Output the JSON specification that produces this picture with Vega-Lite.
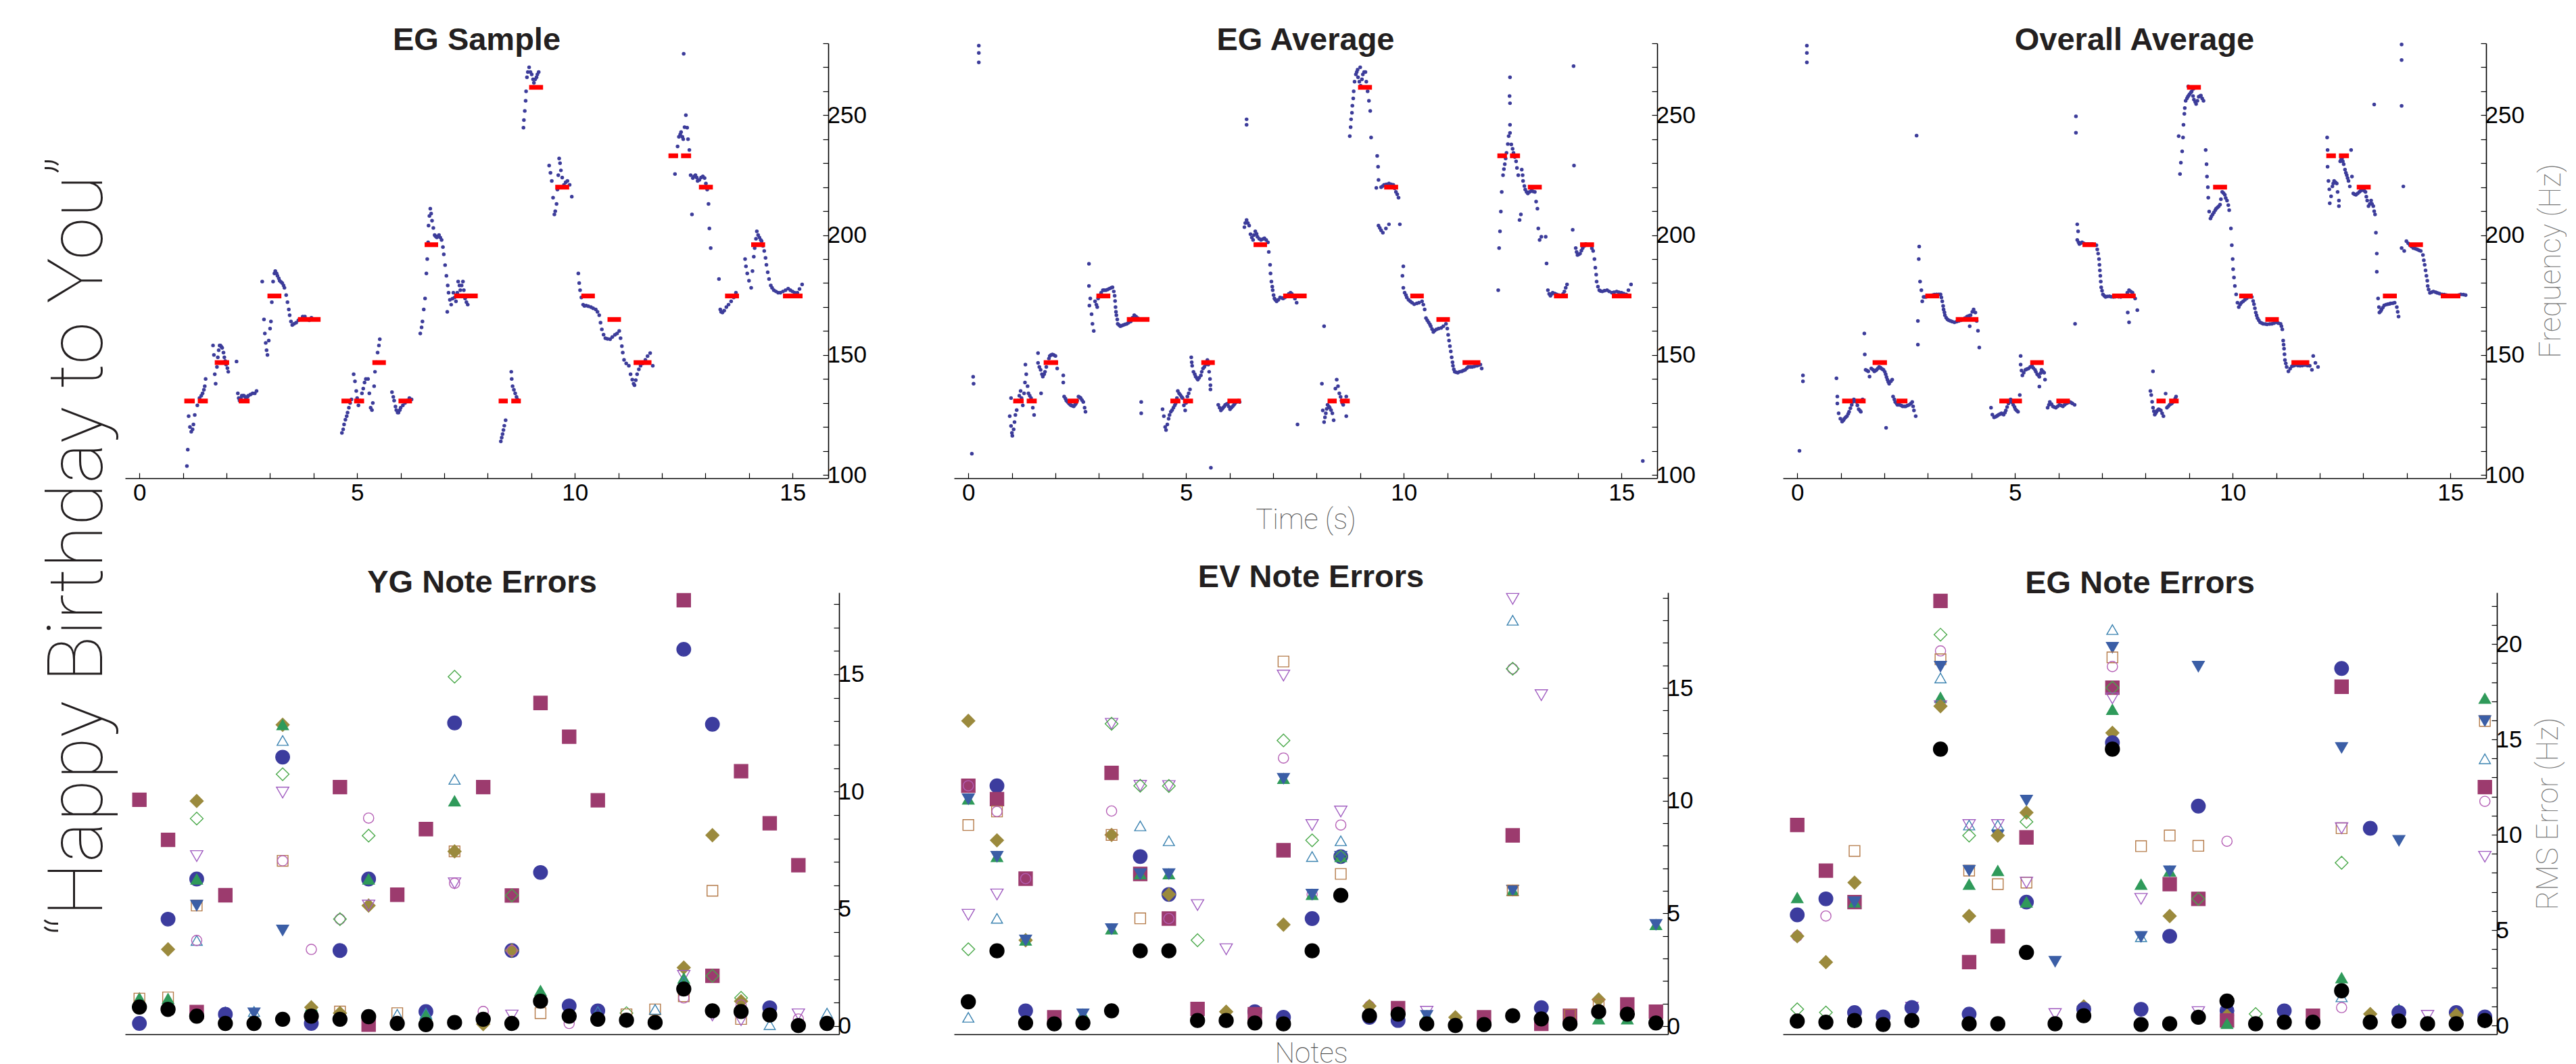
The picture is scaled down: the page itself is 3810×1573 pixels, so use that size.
{
"$schema":"https://vega.github.io/schema/vega-lite/v6.json",
"background":"white",
"padding":{"left":59,"top":36,"right":0,"bottom":0},
"title":{"text":"\u2003\u2003“Happy Birthday to You”","orient":"left","anchor":"middle","font":"Roboto","fontWeight":100,"fontSize":114,"color":"#231f20","baseline":"alphabetic","offset":-80,"frame":"bounds"},
"config":{
 "view":{"stroke":null},
 "title":{"font":"Liberation Sans","fontSize":47,"fontWeight":"bold","color":"#231f20","anchor":"middle","frame":"group","baseline":"alphabetic","offset":-37},
 "axis":{"domainColor":"#000","domainWidth":1.6,"tickColor":"#000","tickWidth":1.2,"labelColor":"#000","labelFont":"Liberation Sans","labelFontSize":35,"grid":false,"titleFont":"Roboto","titleFontWeight":100,"titleColor":"#555","titleFontSize":42,"labelOverlap":false}
},
"datasets":{
"notes":[{"t":1.03,"t1":1.27,"f":130.81},{"t":1.34,"t1":1.57,"f":130.81},{"t":1.73,"t1":2.06,"f":146.83},{"t":2.28,"t1":2.53,"f":130.81},{"t":2.94,"t1":3.26,"f":174.61},{"t":3.64,"t1":4.16,"f":164.81},{"t":4.64,"t1":4.87,"f":130.81},{"t":4.93,"t1":5.16,"f":130.81},{"t":5.35,"t1":5.66,"f":146.83},{"t":5.95,"t1":6.26,"f":130.81},{"t":6.55,"t1":6.86,"f":196.0},{"t":7.23,"t1":7.77,"f":174.61},{"t":8.25,"t1":8.46,"f":130.81},{"t":8.54,"t1":8.76,"f":130.81},{"t":8.95,"t1":9.27,"f":261.63},{"t":9.55,"t1":9.87,"f":220.0},{"t":10.15,"t1":10.46,"f":174.61},{"t":10.75,"t1":11.06,"f":164.81},{"t":11.35,"t1":11.76,"f":146.83},{"t":12.15,"t1":12.37,"f":233.08},{"t":12.44,"t1":12.67,"f":233.08},{"t":12.85,"t1":13.17,"f":220.0},{"t":13.45,"t1":13.77,"f":174.61},{"t":14.05,"t1":14.37,"f":196.0},{"t":14.78,"t1":15.23,"f":174.61}],
"s1":[{"t":1.09,"f":103.7},{"t":1.11,"f":110.5},{"t":1.13,"f":124.5},{"t":1.16,"f":120},{"t":1.19,"f":118},{"t":1.22,"f":119},{"t":1.24,"f":121},{"t":1.27,"f":125},{"t":1.33,"f":129},{"t":1.38,"f":132},{"t":1.42,"f":133},{"t":1.45,"f":134},{"t":1.48,"f":135.5},{"t":1.5,"f":137},{"t":1.52,"f":140},{"t":1.69,"f":154},{"t":1.71,"f":150},{"t":1.73,"f":142},{"t":1.75,"f":138},{"t":1.78,"f":145},{"t":1.8,"f":149},{"t":1.82,"f":152},{"t":1.84,"f":154},{"t":1.86,"f":154},{"t":1.88,"f":153.5},{"t":1.9,"f":153},{"t":1.93,"f":151},{"t":1.95,"f":149},{"t":1.97,"f":147.5},{"t":1.99,"f":146},{"t":2.02,"f":144.5},{"t":2.04,"f":143},{"t":2.23,"f":147.3},{"t":2.26,"f":134},{"t":2.28,"f":132},{"t":2.3,"f":131},{"t":2.33,"f":132},{"t":2.35,"f":133},{"t":2.38,"f":133},{"t":2.4,"f":133},{"t":2.43,"f":132.5},{"t":2.45,"f":132},{"t":2.48,"f":132.5},{"t":2.5,"f":133},{"t":2.55,"f":133.5},{"t":2.6,"f":134},{"t":2.65,"f":134},{"t":2.69,"f":135},
{"t":2.82,"f":180.6},{"t":2.86,"f":164.8},{"t":2.88,"f":159},{"t":2.9,"f":155},{"t":2.92,"f":152},{"t":2.94,"f":150},{"t":2.97,"f":156},{"t":3.0,"f":161},{"t":3.02,"f":164},{"t":3.04,"f":172},{"t":3.07,"f":180.6},{"t":3.1,"f":184},{"t":3.12,"f":185},{"t":3.15,"f":184},{"t":3.17,"f":183},{"t":3.2,"f":182},{"t":3.22,"f":181},{"t":3.25,"f":180.5},{"t":3.28,"f":180},{"t":3.31,"f":179},{"t":3.33,"f":178},{"t":3.37,"f":175},{"t":3.4,"f":172},{"t":3.43,"f":169},{"t":3.45,"f":166.6},{"t":3.48,"f":164},{"t":3.51,"f":162.5},{"t":3.55,"f":163},{"t":3.6,"f":163.5},{"t":3.65,"f":164.5},{"t":3.7,"f":165},{"t":3.75,"f":166},{"t":3.8,"f":166},{"t":3.85,"f":165},{"t":3.9,"f":164.5},{"t":3.95,"f":165.5},{"t":4.0,"f":165},
{"t":4.65,"f":117.5},{"t":4.68,"f":119},{"t":4.7,"f":121},{"t":4.73,"f":123},{"t":4.76,"f":124.5},{"t":4.78,"f":126},{"t":4.81,"f":128},{"t":4.84,"f":130},{"t":4.87,"f":131.5},{"t":4.92,"f":142},{"t":4.95,"f":139},{"t":4.98,"f":135},{"t":5.0,"f":132},{"t":5.03,"f":129},{"t":5.07,"f":131},{"t":5.11,"f":134},{"t":5.14,"f":136},{"t":5.17,"f":138.5},{"t":5.2,"f":140},{"t":5.25,"f":140},{"t":5.28,"f":134},{"t":5.31,"f":128},{"t":5.34,"f":127},{"t":5.36,"f":130},{"t":5.39,"f":137},{"t":5.41,"f":143},{"t":5.44,"f":147},{"t":5.47,"f":151},{"t":5.5,"f":154},{"t":5.52,"f":156.6},{"t":5.8,"f":134.5},{"t":5.83,"f":132.5},{"t":5.85,"f":131},{"t":5.88,"f":128.5},{"t":5.9,"f":127},{"t":5.93,"f":126},{"t":5.95,"f":126},{"t":5.98,"f":127},{"t":6.0,"f":128},{"t":6.05,"f":129},{"t":6.1,"f":130},{"t":6.15,"f":131},{"t":6.2,"f":132},{"t":6.25,"f":131.5},
{"t":6.45,"f":159},{"t":6.48,"f":161.5},{"t":6.5,"f":164},{"t":6.53,"f":169},{"t":6.56,"f":173.6},{"t":6.59,"f":184},{"t":6.61,"f":190},{"t":6.63,"f":197},{"t":6.64,"f":204},{"t":6.66,"f":208},{"t":6.68,"f":211},{"t":6.7,"f":209},{"t":6.72,"f":206},{"t":6.75,"f":203},{"t":6.78,"f":200},{"t":6.8,"f":199.5},{"t":6.83,"f":199},{"t":6.86,"f":199.5},{"t":6.88,"f":200},{"t":6.91,"f":199},{"t":6.94,"f":198},{"t":6.97,"f":195},{"t":6.99,"f":192},{"t":7.02,"f":187.5},{"t":7.05,"f":183},{"t":7.07,"f":168},{"t":7.08,"f":179},{"t":7.1,"f":176},{"t":7.13,"f":173},{"t":7.16,"f":171},{"t":7.19,"f":173.5},{"t":7.21,"f":176},{"t":7.24,"f":174},{"t":7.27,"f":172.4},{"t":7.3,"f":176},{"t":7.32,"f":180.6},{"t":7.35,"f":179},{"t":7.37,"f":177},{"t":7.4,"f":179},{"t":7.43,"f":180.6},{"t":7.45,"f":177},{"t":7.48,"f":173.6},{"t":7.51,"f":172},{"t":7.54,"f":171},
{"t":8.3,"f":114},{"t":8.32,"f":115.5},{"t":8.34,"f":117},{"t":8.36,"f":118.7},{"t":8.38,"f":120.5},{"t":8.41,"f":122.8},{"t":8.54,"f":143},{"t":8.55,"f":140},{"t":8.57,"f":137},{"t":8.6,"f":135.5},{"t":8.63,"f":134},{"t":8.66,"f":132.5},{"t":8.68,"f":131.5},
{"t":8.82,"f":244.8},{"t":8.83,"f":248},{"t":8.85,"f":251.8},{"t":8.87,"f":256},{"t":8.88,"f":260},{"t":8.9,"f":265.8},{"t":8.92,"f":268},{"t":8.95,"f":270},{"t":8.98,"f":268},{"t":9.01,"f":267},{"t":9.04,"f":265},{"t":9.06,"f":263.5},{"t":9.09,"f":265},{"t":9.12,"f":265.8},{"t":9.14,"f":267},{"t":9.17,"f":268},
{"t":9.41,"f":229},{"t":9.44,"f":226},{"t":9.47,"f":222.6},{"t":9.5,"f":215.6},{"t":9.53,"f":208.6},{"t":9.55,"f":210},{"t":9.58,"f":213},{"t":9.6,"f":219},{"t":9.62,"f":225},{"t":9.64,"f":232},{"t":9.66,"f":230},{"t":9.68,"f":227},{"t":9.71,"f":224},{"t":9.75,"f":221},{"t":9.79,"f":222},{"t":9.83,"f":222.6},{"t":9.88,"f":221},{"t":9.93,"f":216},
{"t":10.08,"f":184},{"t":10.1,"f":180},{"t":10.12,"f":177},{"t":10.15,"f":174},{"t":10.19,"f":171},{"t":10.22,"f":170.5},{"t":10.26,"f":170.6},{"t":10.31,"f":170.3},{"t":10.37,"f":170},{"t":10.42,"f":169.5},{"t":10.48,"f":169},{"t":10.52,"f":168},{"t":10.56,"f":166.6},{"t":10.59,"f":163.5},{"t":10.62,"f":160.7},{"t":10.66,"f":158.5},{"t":10.7,"f":157},{"t":10.75,"f":156.7},{"t":10.81,"f":156.6},{"t":10.86,"f":157.5},{"t":10.92,"f":158.4},{"t":10.97,"f":159},{"t":11.02,"f":160},{"t":11.05,"f":157},{"t":11.08,"f":153.7},{"t":11.1,"f":151},{"t":11.13,"f":148},{"t":11.18,"f":146.5},{"t":11.24,"f":145.5},{"t":11.28,"f":142},{"t":11.32,"f":139.7},{"t":11.35,"f":138},{"t":11.37,"f":137.4},{"t":11.4,"f":139.5},{"t":11.43,"f":142},{"t":11.47,"f":144},{"t":11.51,"f":145.5},{"t":11.56,"f":146.5},{"t":11.62,"f":148},{"t":11.67,"f":149.5},{"t":11.73,"f":150.8},{"t":11.79,"f":145.5},
{"t":12.3,"f":225.5},{"t":12.33,"f":233},{"t":12.36,"f":237},{"t":12.39,"f":241},{"t":12.42,"f":242},{"t":12.44,"f":243},{"t":12.47,"f":241},{"t":12.49,"f":240},{"t":12.52,"f":245},{"t":12.55,"f":250},{"t":12.58,"f":244.8},{"t":12.6,"f":240},{"t":12.63,"f":235.5},{"t":12.66,"f":225},{"t":12.69,"f":208.6},{"t":12.71,"f":223.8},{"t":12.74,"f":224.5},{"t":12.77,"f":225},{"t":12.8,"f":224},{"t":12.82,"f":222.6},{"t":12.86,"f":223},{"t":12.9,"f":224},{"t":12.94,"f":224.5},{"t":12.98,"f":223.8},{"t":13.01,"f":221.5},{"t":13.04,"f":219},{"t":13.07,"f":213},{"t":13.09,"f":202.8},{"t":13.12,"f":194.6},{"t":12.5,"f":275.6},
{"t":13.31,"f":181.7},{"t":13.34,"f":169},{"t":13.36,"f":168},{"t":13.39,"f":167.7},{"t":13.43,"f":168.5},{"t":13.48,"f":170},{"t":13.53,"f":171},{"t":13.59,"f":172.4},{"t":13.65,"f":174},{"t":13.7,"f":176},{"t":13.91,"f":190},{"t":13.93,"f":187},{"t":13.96,"f":184},{"t":14.0,"f":181},{"t":14.05,"f":178},{"t":14.08,"f":185},{"t":14.11,"f":191},{"t":14.13,"f":194.6},{"t":14.16,"f":198.5},{"t":14.18,"f":201.6},{"t":14.21,"f":200},{"t":14.24,"f":199},{"t":14.27,"f":198},{"t":14.29,"f":197.5},{"t":14.32,"f":195.5},{"t":14.35,"f":193.4},{"t":14.38,"f":190.5},{"t":14.4,"f":187.6},{"t":14.43,"f":184.5},{"t":14.46,"f":181.7},{"t":14.5,"f":179},{"t":14.53,"f":178},{"t":14.57,"f":177},{"t":14.62,"f":176.5},{"t":14.67,"f":176},{"t":14.72,"f":176},{"t":14.78,"f":176.5},{"t":14.84,"f":177},{"t":14.9,"f":177.7},{"t":14.95,"f":177},{"t":15.0,"f":176.5},{"t":15.05,"f":176},{"t":15.11,"f":176},{"t":15.16,"f":177.5},{"t":15.22,"f":179.4}],
"s2":[{"t":0.08,"f":108.8},{"t":0.11,"f":140.9},{"t":0.12,"f":138},{"t":0.24,"f":272},{"t":0.24,"f":276},{"t":0.24,"f":279},
{"t":0.95,"f":124.5},{"t":0.98,"f":120.4},{"t":0.98,"f":132},{"t":1.0,"f":117.5},{"t":1.01,"f":116.3},{"t":1.04,"f":119},{"t":1.06,"f":122},{"t":1.08,"f":125},{"t":1.11,"f":127},{"t":1.14,"f":131},{"t":1.17,"f":133},{"t":1.2,"f":135},{"t":1.22,"f":132},{"t":1.25,"f":129},{"t":1.28,"f":134},{"t":1.3,"f":138.5},{"t":1.31,"f":146},{"t":1.33,"f":142},{"t":1.36,"f":137},{"t":1.38,"f":134},{"t":1.41,"f":133},{"t":1.44,"f":132},{"t":1.48,"f":128},{"t":1.51,"f":125},{"t":1.6,"f":150.8},{"t":1.67,"f":134},
{"t":1.6,"f":146.7},{"t":1.63,"f":145},{"t":1.66,"f":143.8},{"t":1.69,"f":142},{"t":1.71,"f":141},{"t":1.74,"f":142},{"t":1.76,"f":143},{"t":1.79,"f":145},{"t":1.82,"f":146.7},{"t":1.85,"f":148.5},{"t":1.87,"f":149.6},{"t":1.9,"f":150},{"t":1.93,"f":150.2},{"t":1.96,"f":150},{"t":2.0,"f":149.6},{"t":2.02,"f":147},{"t":2.04,"f":144.4},{"t":2.18,"f":141.5},{"t":2.18,"f":138.5},
{"t":2.2,"f":132.7},{"t":2.23,"f":131.8},{"t":2.25,"f":131},{"t":2.28,"f":130.4},{"t":2.31,"f":129.8},{"t":2.34,"f":129.3},{"t":2.36,"f":129},{"t":2.39,"f":128.8},{"t":2.42,"f":128.6},{"t":2.45,"f":129.2},{"t":2.47,"f":129.8},{"t":2.5,"f":131},{"t":2.53,"f":132.7},{"t":2.56,"f":132.3},{"t":2.58,"f":132},{"t":2.61,"f":131.2},{"t":2.64,"f":130.4},{"t":2.67,"f":128},{"t":2.69,"f":126.3},
{"t":2.77,"f":188},{"t":2.77,"f":178.8},{"t":2.78,"f":170.6},{"t":2.8,"f":173.6},{"t":2.83,"f":167},{"t":2.85,"f":163},{"t":2.88,"f":160},{"t":2.91,"f":172.4},{"t":2.94,"f":171},{"t":2.96,"f":170},{"t":2.98,"f":173.6},{"t":3.02,"f":175},{"t":3.05,"f":176},{"t":3.09,"f":177},{"t":3.12,"f":177},{"t":3.16,"f":177},{"t":3.2,"f":177.3},{"t":3.24,"f":177.7},{"t":3.28,"f":178},{"t":3.31,"f":178.2},{"t":3.34,"f":176.5},{"t":3.36,"f":174.7},{"t":3.37,"f":172.5},{"t":3.38,"f":170},{"t":3.39,"f":168},{"t":3.4,"f":166.6},{"t":3.42,"f":164.8},{"t":3.43,"f":163},{"t":3.46,"f":162.5},{"t":3.49,"f":162},{"t":3.52,"f":162.2},{"t":3.56,"f":162.5},{"t":3.6,"f":162.8},{"t":3.64,"f":163},{"t":3.68,"f":163.5},{"t":3.73,"f":164},{"t":3.77,"f":165.5},{"t":3.81,"f":166.6},{"t":3.85,"f":166},{"t":3.89,"f":165.4},{"t":3.97,"f":130.4},{"t":3.97,"f":125.7},
{"t":4.46,"f":127.4},{"t":4.49,"f":124.5},{"t":4.52,"f":120},{"t":4.54,"f":118.7},{"t":4.57,"f":121},{"t":4.6,"f":123.4},{"t":4.62,"f":125},{"t":4.65,"f":126.3},{"t":4.68,"f":127},{"t":4.71,"f":128},{"t":4.74,"f":129},{"t":4.76,"f":129.8},{"t":4.79,"f":132},{"t":4.81,"f":135},{"t":4.84,"f":134},{"t":4.87,"f":133.3},{"t":4.9,"f":132.5},{"t":4.92,"f":132},{"t":4.95,"f":129},{"t":4.98,"f":126.9},{"t":5.0,"f":130},{"t":5.03,"f":132.7},{"t":5.06,"f":134},{"t":5.09,"f":135.6},{"t":5.12,"f":149},{"t":5.13,"f":147},{"t":5.14,"f":145.5},{"t":5.17,"f":143},{"t":5.2,"f":142},{"t":5.22,"f":141},{"t":5.25,"f":140.3},{"t":5.27,"f":139.7},{"t":5.3,"f":140.5},{"t":5.34,"f":141.5},{"t":5.36,"f":143},{"t":5.39,"f":144.4},{"t":5.42,"f":145},{"t":5.45,"f":146},{"t":5.47,"f":147},{"t":5.49,"f":147.9},{"t":5.51,"f":146},{"t":5.53,"f":143},{"t":5.55,"f":140},{"t":5.56,"f":137.4},{"t":5.56,"f":135.6},{"t":5.57,"f":103},
{"t":5.74,"f":129.2},{"t":5.77,"f":128},{"t":5.8,"f":126.9},{"t":5.83,"f":127.5},{"t":5.85,"f":128},{"t":5.88,"f":128.6},{"t":5.9,"f":129.2},{"t":5.93,"f":129.5},{"t":5.96,"f":129.8},{"t":5.98,"f":128.5},{"t":6.01,"f":127.4},{"t":6.04,"f":128},{"t":6.07,"f":128.6},{"t":6.1,"f":129.2},{"t":6.12,"f":129.8},{"t":6.16,"f":130.4},{"t":6.2,"f":131},{"t":6.23,"f":130.4},
{"t":6.39,"f":248.3},{"t":6.39,"f":246},{"t":6.34,"f":203.3},{"t":6.36,"f":205},{"t":6.39,"f":206.3},{"t":6.42,"f":205},{"t":6.45,"f":204},{"t":6.48,"f":200.4},{"t":6.51,"f":199},{"t":6.54,"f":198},{"t":6.56,"f":200},{"t":6.59,"f":201.6},{"t":6.62,"f":200.5},{"t":6.64,"f":199.3},{"t":6.68,"f":198.5},{"t":6.72,"f":198},{"t":6.76,"f":198.3},{"t":6.8,"f":198.7},{"t":6.84,"f":198},{"t":6.88,"f":197},{"t":6.9,"f":193},{"t":6.93,"f":187.6},{"t":6.94,"f":184},{"t":6.96,"f":180.6},{"t":6.98,"f":178.5},{"t":6.99,"f":177},{"t":7.01,"f":175},{"t":7.03,"f":173.6},{"t":7.05,"f":173},{"t":7.08,"f":172.4},{"t":7.12,"f":173},{"t":7.16,"f":174},{"t":7.2,"f":173.8},{"t":7.23,"f":173.6},{"t":7.27,"f":174},{"t":7.32,"f":174.7},{"t":7.36,"f":175.5},{"t":7.4,"f":176},{"t":7.43,"f":175.5},{"t":7.46,"f":174.7},{"t":7.5,"f":173.5},{"t":7.54,"f":171.8},{"t":7.56,"f":121},
{"t":8.17,"f":162},{"t":8.12,"f":138},{"t":8.14,"f":126.9},{"t":8.17,"f":122},{"t":8.19,"f":124},{"t":8.21,"f":125.7},{"t":8.23,"f":127.5},{"t":8.25,"f":129.2},{"t":8.28,"f":128.5},{"t":8.3,"f":128},{"t":8.33,"f":127},{"t":8.36,"f":125.7},{"t":8.39,"f":122.8},{"t":8.43,"f":136},{"t":8.46,"f":139.7},{"t":8.49,"f":137},{"t":8.52,"f":134},{"t":8.55,"f":132.5},{"t":8.57,"f":131},{"t":8.59,"f":130},{"t":8.61,"f":129.2},{"t":8.65,"f":131},{"t":8.68,"f":132.7},{"t":8.68,"f":124.5},
{"t":8.76,"f":241.3},{"t":8.78,"f":245},{"t":8.79,"f":248.3},{"t":8.81,"f":251},{"t":8.82,"f":254},{"t":8.84,"f":257},{"t":8.85,"f":260},{"t":8.87,"f":264},{"t":8.9,"f":267},{"t":8.92,"f":268},{"t":8.95,"f":265.8},{"t":8.98,"f":264},{"t":9.01,"f":262.3},{"t":9.04,"f":265},{"t":9.06,"f":267},{"t":9.09,"f":268},{"t":9.12,"f":268},{"t":9.14,"f":264},{"t":9.17,"f":260},{"t":9.2,"f":256},{"t":9.23,"f":251.8},{"t":9.25,"f":240.7},{"t":9.0,"f":270},{"t":8.94,"f":269},
{"t":9.37,"f":219.7},{"t":9.39,"f":233},{"t":9.41,"f":228.5},{"t":9.42,"f":223},{"t":9.42,"f":204},{"t":9.45,"f":203},{"t":9.48,"f":220},{"t":9.48,"f":202},{"t":9.52,"f":201},{"t":9.52,"f":220.5},{"t":9.55,"f":221},{"t":9.59,"f":202.8},{"t":9.6,"f":221.2},{"t":9.66,"f":221.5},{"t":9.66,"f":204.5},{"t":9.71,"f":221.2},{"t":9.76,"f":221},{"t":9.79,"f":219.5},{"t":9.82,"f":218},{"t":9.85,"f":217},{"t":9.88,"f":215.6},{"t":9.91,"f":204.5},
{"t":9.97,"f":183},{"t":9.99,"f":187},{"t":9.99,"f":178},{"t":10.02,"f":176},{"t":10.05,"f":175},{"t":10.07,"f":174},{"t":10.11,"f":173},{"t":10.15,"f":172.4},{"t":10.19,"f":171.8},{"t":10.24,"f":171.2},{"t":10.3,"f":171.5},{"t":10.35,"f":171.8},{"t":10.42,"f":172.4},{"t":10.45,"f":171},{"t":10.48,"f":169},{"t":10.51,"f":165.4},{"t":10.54,"f":164.5},{"t":10.57,"f":163.6},{"t":10.6,"f":162.8},{"t":10.62,"f":162},{"t":10.65,"f":160.8},{"t":10.68,"f":159.6},{"t":10.71,"f":160.2},{"t":10.75,"f":160.7},{"t":10.8,"f":161},{"t":10.86,"f":161.3},{"t":10.91,"f":162},{"t":10.97,"f":163},{"t":11.0,"f":161},{"t":11.02,"f":158.4},{"t":11.04,"f":156},{"t":11.06,"f":153.7},{"t":11.08,"f":151.5},{"t":11.1,"f":149},{"t":11.12,"f":147},{"t":11.13,"f":145.5},{"t":11.15,"f":144},{"t":11.17,"f":143},{"t":11.2,"f":142.8},{"t":11.24,"f":142.6},{"t":11.28,"f":143},{"t":11.33,"f":143.2},{"t":11.37,"f":143.5},{"t":11.41,"f":143.8},{"t":11.45,"f":144.5},{"t":11.48,"f":145},{"t":11.53,"f":145},{"t":11.57,"f":145},{"t":11.62,"f":145.2},{"t":11.68,"f":145.5},{"t":11.72,"f":145.8},{"t":11.76,"f":146},{"t":11.79,"f":144.4},
{"t":12.17,"f":177},{"t":12.19,"f":194.6},{"t":12.21,"f":201.6},{"t":12.23,"f":209.8},{"t":12.25,"f":218},{"t":12.28,"f":225},{"t":12.3,"f":227.5},{"t":12.32,"f":229.6},{"t":12.34,"f":232},{"t":12.36,"f":234.3},{"t":12.39,"f":238},{"t":12.41,"f":241.3},{"t":12.44,"f":246},{"t":12.43,"f":258},{"t":12.44,"f":265.8},{"t":12.44,"f":255},{"t":12.44,"f":242.6},{"t":12.47,"f":237.8},{"t":12.5,"f":236},{"t":12.52,"f":234.3},{"t":12.55,"f":232.5},{"t":12.58,"f":230.8},{"t":12.6,"f":228},{"t":12.63,"f":225},{"t":12.66,"f":206.3},{"t":12.69,"f":208.6},{"t":12.71,"f":227.3},{"t":12.73,"f":225},{"t":12.74,"f":222.6},{"t":12.77,"f":220.5},{"t":12.79,"f":219},{"t":12.82,"f":218},{"t":12.85,"f":217.4},{"t":12.89,"f":218},{"t":12.93,"f":218.5},{"t":12.97,"f":218.2},{"t":13.01,"f":218},{"t":13.04,"f":214},{"t":13.07,"f":211},{"t":13.09,"f":202.8},{"t":13.12,"f":198},{"t":13.16,"f":199.3},{"t":13.26,"f":199.3},{"t":13.28,"f":188.2},
{"t":13.31,"f":177},{"t":13.34,"f":175.5},{"t":13.37,"f":174.7},{"t":13.4,"f":175.5},{"t":13.42,"f":176},{"t":13.47,"f":175.6},{"t":13.51,"f":175.3},{"t":13.56,"f":175},{"t":13.62,"f":174.7},{"t":13.66,"f":175.5},{"t":13.69,"f":176.5},{"t":13.72,"f":178},{"t":13.75,"f":179.4},{"t":13.88,"f":202.2},{"t":13.9,"f":270.5},{"t":13.91,"f":229},{"t":13.95,"f":194.6},{"t":13.97,"f":193},{"t":13.99,"f":191.7},{"t":14.02,"f":192},{"t":14.05,"f":192.3},{"t":14.08,"f":193.5},{"t":14.11,"f":194.6},{"t":14.15,"f":195.5},{"t":14.18,"f":196.3},{"t":14.23,"f":196},{"t":14.29,"f":195.8},{"t":14.32,"f":194.5},{"t":14.35,"f":193.4},{"t":14.38,"f":190},{"t":14.4,"f":186.4},{"t":14.42,"f":183.5},{"t":14.43,"f":180.6},{"t":14.46,"f":178.5},{"t":14.49,"f":177},{"t":14.52,"f":176.7},{"t":14.56,"f":176.5},{"t":14.61,"f":176.8},{"t":14.67,"f":177},{"t":14.72,"f":176.5},{"t":14.78,"f":176},{"t":14.83,"f":176.2},{"t":14.89,"f":176.5},{"t":14.94,"f":176.2},{"t":15.0,"f":176},{"t":15.05,"f":175.6},{"t":15.11,"f":175.3},{"t":15.16,"f":177},{"t":15.22,"f":179.4},{"t":15.49,"f":105.8}],
"s3":[{"t":0.05,"f":110},{"t":0.13,"f":141.5},{"t":0.13,"f":139},{"t":0.22,"f":272},{"t":0.22,"f":276},{"t":0.22,"f":279},
{"t":0.9,"f":140.3},{"t":0.92,"f":132.7},{"t":0.92,"f":129.8},{"t":0.95,"f":125.7},{"t":0.99,"f":123.4},{"t":1.03,"f":122.2},{"t":1.06,"f":122.8},{"t":1.08,"f":123.4},{"t":1.11,"f":124},{"t":1.14,"f":124.5},{"t":1.17,"f":125.5},{"t":1.19,"f":126.3},{"t":1.22,"f":127.8},{"t":1.25,"f":129.2},{"t":1.28,"f":130.5},{"t":1.3,"f":131.5},{"t":1.33,"f":131},{"t":1.36,"f":130.4},{"t":1.38,"f":129},{"t":1.41,"f":127.4},{"t":1.44,"f":126.8},{"t":1.46,"f":126.3},{"t":1.5,"f":131.5},{"t":1.54,"f":159},{"t":1.55,"f":150.2},
{"t":1.57,"f":143.8},{"t":1.6,"f":143.5},{"t":1.63,"f":143.2},{"t":1.66,"f":141},{"t":1.7,"f":144.4},{"t":1.74,"f":143.8},{"t":1.77,"f":143.2},{"t":1.8,"f":143.5},{"t":1.82,"f":143.8},{"t":1.85,"f":144.4},{"t":1.88,"f":145},{"t":1.91,"f":144.7},{"t":1.93,"f":144.4},{"t":1.96,"f":144},{"t":1.98,"f":143.8},{"t":2.01,"f":143},{"t":2.03,"f":142},{"t":2.05,"f":140.8},{"t":2.07,"f":139.7},{"t":2.09,"f":138.8},{"t":2.11,"f":138},{"t":2.15,"f":139},{"t":2.18,"f":139.7},{"t":2.04,"f":119.6},
{"t":2.2,"f":132.7},{"t":2.23,"f":131.5},{"t":2.25,"f":130.4},{"t":2.28,"f":129.8},{"t":2.3,"f":129.2},{"t":2.33,"f":129.2},{"t":2.35,"f":129.2},{"t":2.39,"f":128.9},{"t":2.42,"f":128.6},{"t":2.46,"f":128.6},{"t":2.49,"f":128.6},{"t":2.53,"f":128.9},{"t":2.57,"f":129.2},{"t":2.61,"f":129.8},{"t":2.64,"f":130.4},{"t":2.66,"f":128.6},{"t":2.68,"f":126.9},{"t":2.72,"f":124.5},
{"t":2.74,"f":241.5},{"t":2.77,"f":154.3},{"t":2.77,"f":164.2},{"t":2.79,"f":190},{"t":2.8,"f":195.2},{"t":2.82,"f":180.6},{"t":2.85,"f":177},{"t":2.87,"f":172.4},{"t":2.9,"f":174.2},{"t":2.93,"f":174.2},{"t":2.96,"f":174.2},{"t":3.0,"f":174.5},{"t":3.04,"f":174.7},{"t":3.08,"f":174.8},{"t":3.11,"f":175},{"t":3.15,"f":175.2},{"t":3.2,"f":175.3},{"t":3.25,"f":175.3},{"t":3.29,"f":175.3},{"t":3.31,"f":174},{"t":3.33,"f":172.4},{"t":3.35,"f":170.5},{"t":3.36,"f":169},{"t":3.38,"f":167.8},{"t":3.39,"f":166.6},{"t":3.42,"f":165.5},{"t":3.45,"f":164.8},{"t":3.48,"f":164.5},{"t":3.52,"f":164.2},{"t":3.56,"f":163.9},{"t":3.61,"f":163.6},{"t":3.66,"f":163.9},{"t":3.71,"f":164.2},{"t":3.76,"f":164.5},{"t":3.81,"f":164.8},{"t":3.85,"f":165.4},{"t":3.9,"f":166},{"t":3.94,"f":166.3},{"t":3.98,"f":166.6},{"t":4.02,"f":168},{"t":4.05,"f":169},{"t":4.09,"f":167.7},{"t":4.12,"f":164.2},{"t":3.96,"f":162},{"t":4.15,"f":160.1},{"t":4.18,"f":153.1},
{"t":4.45,"f":128},{"t":4.48,"f":125.1},{"t":4.52,"f":124},{"t":4.55,"f":124.2},{"t":4.58,"f":124.5},{"t":4.6,"f":124.8},{"t":4.63,"f":125.1},{"t":4.66,"f":125.4},{"t":4.69,"f":125.7},{"t":4.71,"f":125.4},{"t":4.74,"f":125.1},{"t":4.77,"f":126},{"t":4.79,"f":126.9},{"t":4.82,"f":128.3},{"t":4.85,"f":129.8},{"t":4.88,"f":130.6},{"t":4.9,"f":131.5},{"t":4.93,"f":130.3},{"t":4.96,"f":129.2},{"t":4.99,"f":128.3},{"t":5.01,"f":127.4},{"t":5.04,"f":126.8},{"t":5.07,"f":126.3},{"t":5.11,"f":133.3},{"t":5.13,"f":149.6},{"t":5.13,"f":146},{"t":5.15,"f":143.5},{"t":5.17,"f":141.5},{"t":5.2,"f":142.6},{"t":5.24,"f":143.8},{"t":5.27,"f":144.1},{"t":5.31,"f":144.4},{"t":5.35,"f":145},{"t":5.39,"f":145.5},{"t":5.42,"f":144.6},{"t":5.46,"f":143.8},{"t":5.48,"f":143},{"t":5.51,"f":142},{"t":5.54,"f":141.5},{"t":5.56,"f":140.9},{"t":5.56,"f":136.8},{"t":5.59,"f":142.5},{"t":5.61,"f":143.8},{"t":5.64,"f":143.2},{"t":5.67,"f":142.6},{"t":5.69,"f":139.7},
{"t":5.75,"f":128},{"t":5.78,"f":129.2},{"t":5.8,"f":130.4},{"t":5.84,"f":129.5},{"t":5.87,"f":128.6},{"t":5.9,"f":128.3},{"t":5.94,"f":128},{"t":5.98,"f":128.6},{"t":6.02,"f":129.2},{"t":6.06,"f":128.9},{"t":6.1,"f":128.6},{"t":6.14,"f":129.2},{"t":6.18,"f":129.8},{"t":6.22,"f":130.1},{"t":6.26,"f":130.4},{"t":6.29,"f":130.1},{"t":6.32,"f":129.8},{"t":6.37,"f":129.2},
{"t":6.38,"f":163},{"t":6.4,"f":249.5},{"t":6.4,"f":242.7},{"t":6.43,"f":204.5},{"t":6.45,"f":201.6},{"t":6.43,"f":198},{"t":6.46,"f":197},{"t":6.48,"f":196.3},{"t":6.51,"f":196.6},{"t":6.54,"f":197},{"t":6.58,"f":196.6},{"t":6.62,"f":196.3},{"t":6.66,"f":196.3},{"t":6.69,"f":196.3},{"t":6.74,"f":196.3},{"t":6.78,"f":196.3},{"t":6.83,"f":196},{"t":6.87,"f":195.8},{"t":6.89,"f":194},{"t":6.91,"f":192.3},{"t":6.93,"f":190},{"t":6.94,"f":187.6},{"t":6.95,"f":185.3},{"t":6.96,"f":183},{"t":6.97,"f":180.6},{"t":6.98,"f":178.2},{"t":7.0,"f":176.8},{"t":7.02,"f":175.3},{"t":7.05,"f":174.7},{"t":7.08,"f":174.2},{"t":7.12,"f":174.4},{"t":7.17,"f":174.5},{"t":7.21,"f":174.3},{"t":7.26,"f":174.2},{"t":7.3,"f":174.3},{"t":7.34,"f":174.5},{"t":7.38,"f":174.3},{"t":7.43,"f":174.2},{"t":7.48,"f":174.5},{"t":7.54,"f":174.7},{"t":7.58,"f":176},{"t":7.62,"f":177},{"t":7.66,"f":176.5},{"t":7.7,"f":176},{"t":7.73,"f":174.8},{"t":7.76,"f":173.6},{"t":7.59,"f":167.7},{"t":7.62,"f":163.6},{"t":7.81,"f":168.7},
{"t":8.11,"f":135},{"t":8.13,"f":133.3},{"t":8.15,"f":130.5},{"t":8.17,"f":128},{"t":8.17,"f":143.2},{"t":8.19,"f":126.5},{"t":8.21,"f":125.1},{"t":8.23,"f":125.7},{"t":8.25,"f":126.3},{"t":8.27,"f":126.9},{"t":8.3,"f":127.4},{"t":8.32,"f":127.2},{"t":8.35,"f":126.9},{"t":8.38,"f":125.7},{"t":8.41,"f":124.5},{"t":8.46,"f":133.9},{"t":8.49,"f":128},{"t":8.52,"f":128.6},{"t":8.55,"f":129.2},{"t":8.57,"f":129.5},{"t":8.6,"f":129.8},{"t":8.63,"f":130.4},{"t":8.66,"f":131},{"t":8.68,"f":131.8},{"t":8.7,"f":132.7},
{"t":8.76,"f":241.3},{"t":8.79,"f":225.5},{"t":8.81,"f":230.2},{"t":8.84,"f":234.9},{"t":8.86,"f":240.7},{"t":8.87,"f":246},{"t":8.89,"f":250.6},{"t":8.9,"f":253},{"t":8.92,"f":256},{"t":8.95,"f":257},{"t":8.97,"f":257.7},{"t":8.99,"f":258.2},{"t":9.01,"f":258.8},{"t":9.04,"f":259.5},{"t":9.06,"f":260},{"t":9.09,"f":258},{"t":9.11,"f":256.5},{"t":9.14,"f":255.5},{"t":9.16,"f":254.7},{"t":9.19,"f":256},{"t":9.22,"f":257.7},{"t":9.25,"f":258},{"t":9.27,"f":258.2},{"t":9.3,"f":257},{"t":9.33,"f":256},{"t":8.98,"f":262},{"t":9.1,"f":261},
{"t":9.38,"f":235.5},{"t":9.4,"f":229.6},{"t":9.41,"f":224.4},{"t":9.43,"f":220},{"t":9.44,"f":215.6},{"t":9.46,"f":209.8},{"t":9.49,"f":206.9},{"t":9.51,"f":207.8},{"t":9.54,"f":208.6},{"t":9.57,"f":209.5},{"t":9.6,"f":210.4},{"t":9.62,"f":211},{"t":9.65,"f":211.5},{"t":9.68,"f":212},{"t":9.71,"f":212.7},{"t":9.73,"f":215},{"t":9.76,"f":218},{"t":9.79,"f":217.5},{"t":9.82,"f":216.8},{"t":9.84,"f":215.5},{"t":9.87,"f":214.4},{"t":9.9,"f":212.5},{"t":9.92,"f":210.4},
{"t":9.96,"f":202.8},{"t":9.98,"f":195.8},{"t":10.0,"f":190},{"t":10.01,"f":185.8},{"t":10.03,"f":182.3},{"t":10.05,"f":178.8},{"t":10.08,"f":175.3},{"t":10.11,"f":171.8},{"t":10.14,"f":170},{"t":10.17,"f":171},{"t":10.2,"f":171.8},{"t":10.24,"f":172.4},{"t":10.28,"f":173},{"t":10.32,"f":173.6},{"t":10.36,"f":174.2},{"t":10.4,"f":174.2},{"t":10.44,"f":174.2},{"t":10.47,"f":172.5},{"t":10.49,"f":171.2},{"t":10.51,"f":169.5},{"t":10.53,"f":167.7},{"t":10.55,"f":166.5},{"t":10.57,"f":165.4},{"t":10.6,"f":164.5},{"t":10.63,"f":163.6},{"t":10.67,"f":163.3},{"t":10.7,"f":163},{"t":10.75,"f":162.9},{"t":10.79,"f":162.8},{"t":10.85,"f":162.9},{"t":10.9,"f":163},{"t":10.95,"f":163.3},{"t":11.01,"f":163.6},{"t":11.05,"f":163.3},{"t":11.1,"f":163},{"t":11.12,"f":162},{"t":11.14,"f":160.7},{"t":11.16,"f":156},{"t":11.17,"f":154.3},{"t":11.18,"f":152.6},{"t":11.19,"f":150.3},{"t":11.2,"f":147.9},{"t":11.22,"f":146.5},{"t":11.24,"f":145},{"t":11.28,"f":143.2},{"t":11.32,"f":144.3},{"t":11.36,"f":145.3},{"t":11.4,"f":145.5},{"t":11.44,"f":145.8},{"t":11.5,"f":145.6},{"t":11.55,"f":145.5},{"t":11.6,"f":145.6},{"t":11.66,"f":145.8},{"t":11.72,"f":145.6},{"t":11.77,"f":145.5},{"t":11.82,"f":143.8},{"t":11.85,"f":149.6},{"t":11.9,"f":146.7},{"t":11.96,"f":145},
{"t":12.17,"f":240.7},{"t":12.18,"f":235.5},{"t":12.18,"f":228.5},{"t":12.2,"f":222.6},{"t":12.22,"f":219.1},{"t":12.23,"f":213.3},{"t":12.26,"f":216.2},{"t":12.29,"f":220.3},{"t":12.31,"f":221.5},{"t":12.33,"f":222.6},{"t":12.36,"f":222},{"t":12.39,"f":221.5},{"t":12.41,"f":218},{"t":12.44,"f":214.4},{"t":12.44,"f":212.1},{"t":12.47,"f":230.8},{"t":12.49,"f":231.5},{"t":12.51,"f":232},{"t":12.53,"f":230.8},{"t":12.55,"f":229.6},{"t":12.58,"f":227.3},{"t":12.6,"f":226},{"t":12.62,"f":225},{"t":12.64,"f":223.8},{"t":12.66,"f":222.6},{"t":12.69,"f":220.3},{"t":12.72,"f":235.5},{"t":12.74,"f":224.4},{"t":12.77,"f":217.4},{"t":12.8,"f":217},{"t":12.83,"f":216.8},{"t":12.87,"f":217.4},{"t":12.91,"f":218},{"t":12.94,"f":218.5},{"t":12.98,"f":219.1},{"t":13.02,"f":218.5},{"t":13.05,"f":218},{"t":13.07,"f":216},{"t":13.09,"f":214.4},{"t":13.12,"f":212.1},{"t":13.15,"f":213},{"t":13.18,"f":214.4},{"t":13.2,"f":213},{"t":13.23,"f":212.1},{"t":13.25,"f":210},{"t":13.27,"f":208.6},{"t":13.29,"f":201},{"t":13.31,"f":192.3},{"t":13.31,"f":184.7},{"t":13.25,"f":254.5},
{"t":13.34,"f":173.6},{"t":13.36,"f":170},{"t":13.37,"f":167.7},{"t":13.4,"f":168.3},{"t":13.42,"f":169},{"t":13.45,"f":169.8},{"t":13.48,"f":170.7},{"t":13.52,"f":171},{"t":13.56,"f":171.2},{"t":13.6,"f":171.3},{"t":13.63,"f":171.5},{"t":13.68,"f":171.6},{"t":13.72,"f":171.8},{"t":13.77,"f":170},{"t":13.79,"f":168},{"t":13.81,"f":166},{"t":13.88,"f":279.5},{"t":13.88,"f":273},{"t":13.88,"f":253.9},{"t":13.92,"f":220.3},{"t":13.88,"f":194.6},{"t":13.94,"f":193.4},{"t":13.99,"f":197.5},{"t":14.03,"f":196.6},{"t":14.07,"f":195.8},{"t":14.11,"f":195.2},{"t":14.15,"f":194.6},{"t":14.2,"f":194.3},{"t":14.24,"f":194},{"t":14.28,"f":193.7},{"t":14.32,"f":193.4},{"t":14.37,"f":191.7},{"t":14.39,"f":189.5},{"t":14.41,"f":187.6},{"t":14.43,"f":185.3},{"t":14.45,"f":183},{"t":14.47,"f":181},{"t":14.48,"f":178.8},{"t":14.5,"f":177.3},{"t":14.53,"f":175.9},{"t":14.57,"f":176.2},{"t":14.61,"f":176.5},{"t":14.66,"f":176.2},{"t":14.7,"f":175.9},{"t":14.75,"f":175.6},{"t":14.81,"f":175.3},{"t":14.86,"f":175.2},{"t":14.91,"f":175},{"t":14.96,"f":174.8},{"t":15.02,"f":174.5},{"t":15.08,"f":174.6},{"t":15.13,"f":174.7},{"t":15.19,"f":175},{"t":15.24,"f":175.3},{"t":15.3,"f":175.2},{"t":15.35,"f":175}],
"e1":[{"n":1,"s":"ms","v":9.65},{"n":1,"s":"gt","v":1.2},{"n":1,"s":"bs","v":1.17},{"n":1,"s":"bc","v":0.11},
{"n":2,"s":"ms","v":7.94},{"n":2,"s":"bc","v":4.56},{"n":2,"s":"od","v":3.27},{"n":2,"s":"bs","v":1.22},{"n":2,"s":"gt","v":1.17},
{"n":3,"s":"od","v":9.6},{"n":3,"s":"gd","v":8.85},{"n":3,"s":"pt","v":7.25},{"n":3,"s":"bc","v":6.27},{"n":3,"s":"gt","v":6.27},{"n":3,"s":"bs","v":5.14},{"n":3,"s":"bt","v":5.14},{"n":3,"s":"tt","v":3.65},{"n":3,"s":"pc","v":3.65},{"n":3,"s":"ms","v":0.6},
{"n":4,"s":"ms","v":5.58},{"n":4,"s":"tt","v":0.6},{"n":4,"s":"bc","v":0.5},
{"n":5,"s":"tt","v":0.62},{"n":5,"s":"bt","v":0.55},
{"n":6,"s":"od","v":12.85},{"n":6,"s":"gt","v":12.85},{"n":6,"s":"tt","v":12.18},{"n":6,"s":"bc","v":11.47},{"n":6,"s":"gd","v":10.74},{"n":6,"s":"pt","v":9.96},{"n":6,"s":"bs","v":7.05},{"n":6,"s":"pc","v":7.05},{"n":6,"s":"bt","v":4.08},
{"n":7,"s":"pc","v":3.27},{"n":7,"s":"gt","v":0.85},{"n":7,"s":"od","v":0.8},{"n":7,"s":"bc","v":0.11},
{"n":8,"s":"ms","v":10.19},{"n":8,"s":"pc","v":4.56},{"n":8,"s":"gd","v":4.56},{"n":8,"s":"bc","v":3.22},{"n":8,"s":"bs","v":0.62},{"n":8,"s":"od","v":0.55},
{"n":9,"s":"pc","v":8.87},{"n":9,"s":"gd","v":8.12},{"n":9,"s":"bc","v":6.27},{"n":9,"s":"gt","v":6.27},{"n":9,"s":"od","v":5.14},{"n":9,"s":"pt","v":5.14},{"n":9,"s":"ms","v":0.06},
{"n":10,"s":"ms","v":5.6},{"n":10,"s":"tt","v":0.5},{"n":10,"s":"bs","v":0.55},
{"n":11,"s":"ms","v":8.4},{"n":11,"s":"bc","v":0.62},{"n":11,"s":"gt","v":0.5},{"n":11,"s":"tt","v":0.55},
{"n":12,"s":"gd","v":14.9},{"n":12,"s":"bc","v":12.93},{"n":12,"s":"tt","v":10.52},{"n":12,"s":"gt","v":9.6},{"n":12,"s":"bs","v":7.45},{"n":12,"s":"od","v":7.45},{"n":12,"s":"pt","v":6.09},{"n":12,"s":"pc","v":6.09},
{"n":13,"s":"ms","v":10.19},{"n":13,"s":"pc","v":0.62},{"n":13,"s":"od","v":0.08},
{"n":14,"s":"ms","v":5.57},{"n":14,"s":"gd","v":5.57},{"n":14,"s":"bc","v":3.22},{"n":14,"s":"od","v":3.22},{"n":14,"s":"pc","v":3.22},{"n":14,"s":"pt","v":0.45},
{"n":15,"s":"ms","v":13.78},{"n":15,"s":"bc","v":6.55},{"n":15,"s":"gt","v":1.51},{"n":15,"s":"bs","v":0.55},
{"n":16,"s":"ms","v":12.34},{"n":16,"s":"bc","v":0.86},{"n":16,"s":"pc","v":0.11},
{"n":17,"s":"ms","v":9.63},{"n":17,"s":"bc","v":0.65},{"n":17,"s":"tt","v":0.62},
{"n":18,"s":"gd","v":0.55},{"n":18,"s":"bs","v":0.5},{"n":18,"s":"tt","v":0.3},
{"n":19,"s":"bs","v":0.71},{"n":19,"s":"tt","v":0.71},
{"n":20,"s":"ms","v":18.16},{"n":20,"s":"bc","v":16.07},{"n":20,"s":"od","v":2.49},{"n":20,"s":"pt","v":2.14},{"n":20,"s":"gt","v":2.04},{"n":20,"s":"tt","v":1.9},{"n":20,"s":"bs","v":1.27},{"n":20,"s":"pc","v":1.2},
{"n":21,"s":"bc","v":12.87},{"n":21,"s":"od","v":8.14},{"n":21,"s":"bs","v":5.77},{"n":21,"s":"ms","v":2.14},{"n":21,"s":"gd","v":2.14},{"n":21,"s":"pt","v":0.45},
{"n":22,"s":"ms","v":10.87},{"n":22,"s":"gd","v":1.2},{"n":22,"s":"od","v":1.06},{"n":22,"s":"pc","v":0.9},{"n":22,"s":"bs","v":0.3},{"n":22,"s":"pt","v":0.25},
{"n":23,"s":"ms","v":8.65},{"n":23,"s":"bc","v":0.78},{"n":23,"s":"tt","v":0.06},
{"n":24,"s":"ms","v":6.86},{"n":24,"s":"pt","v":0.5},{"n":24,"s":"pc","v":0.3},
{"n":25,"s":"tt","v":0.55},
{"n":1,"s":"k","v":0.81},{"n":2,"s":"k","v":0.71},{"n":3,"s":"k","v":0.42},{"n":4,"s":"k","v":0.11},{"n":5,"s":"k","v":0.11},{"n":6,"s":"k","v":0.29},{"n":7,"s":"k","v":0.42},{"n":8,"s":"k","v":0.29},{"n":9,"s":"k","v":0.4},{"n":10,"s":"k","v":0.11},{"n":11,"s":"k","v":0.06},{"n":12,"s":"k","v":0.15},{"n":13,"s":"k","v":0.29},{"n":14,"s":"k","v":0.11},{"n":15,"s":"k","v":1.06},{"n":16,"s":"k","v":0.42},{"n":17,"s":"k","v":0.29},{"n":18,"s":"k","v":0.25},{"n":19,"s":"k","v":0.15},{"n":20,"s":"k","v":1.58},{"n":21,"s":"k","v":0.65},{"n":22,"s":"k","v":0.62},{"n":23,"s":"k","v":0.47},{"n":24,"s":"k","v":0.02},{"n":25,"s":"k","v":0.11}],
"e2":[{"n":1,"s":"od","v":13.54},{"n":1,"s":"ms","v":10.66},{"n":1,"s":"pc","v":10.66},{"n":1,"s":"gt","v":10.07},{"n":1,"s":"bt","v":10.07},{"n":1,"s":"bs","v":8.92},{"n":1,"s":"pt","v":4.94},{"n":1,"s":"gd","v":3.41},{"n":1,"s":"tt","v":0.39},
{"n":2,"s":"bc","v":10.66},{"n":2,"s":"ms","v":10.07},{"n":2,"s":"bs","v":9.52},{"n":2,"s":"pc","v":9.52},{"n":2,"s":"od","v":8.24},{"n":2,"s":"gt","v":7.52},{"n":2,"s":"bt","v":7.52},{"n":2,"s":"pt","v":5.84},{"n":2,"s":"tt","v":4.78},
{"n":3,"s":"ms","v":6.54},{"n":3,"s":"pc","v":6.54},{"n":3,"s":"od","v":3.81},{"n":3,"s":"gt","v":3.81},{"n":3,"s":"bt","v":3.81},{"n":3,"s":"bc","v":0.68},
{"n":4,"s":"ms","v":0.39},
{"n":5,"s":"gt","v":0.53},{"n":5,"s":"bt","v":0.53},
{"n":6,"s":"pt","v":13.41},{"n":6,"s":"gd","v":13.41},{"n":6,"s":"ms","v":11.23},{"n":6,"s":"pc","v":9.54},{"n":6,"s":"od","v":8.48},{"n":6,"s":"bs","v":8.48},{"n":6,"s":"gt","v":4.31},{"n":6,"s":"bt","v":4.31},
{"n":7,"s":"pt","v":10.66},{"n":7,"s":"gd","v":10.66},{"n":7,"s":"tt","v":8.88},{"n":7,"s":"bc","v":7.52},{"n":7,"s":"ms","v":6.75},{"n":7,"s":"gt","v":6.75},{"n":7,"s":"bt","v":6.75},{"n":7,"s":"bs","v":4.78},
{"n":8,"s":"pt","v":10.65},{"n":8,"s":"gd","v":10.65},{"n":8,"s":"tt","v":8.22},{"n":8,"s":"gt","v":6.75},{"n":8,"s":"bt","v":6.75},{"n":8,"s":"bc","v":5.84},{"n":8,"s":"od","v":5.84},{"n":8,"s":"ms","v":4.77},{"n":8,"s":"pc","v":4.77},
{"n":9,"s":"pt","v":5.37},{"n":9,"s":"gd","v":3.81},{"n":9,"s":"ms","v":0.76},
{"n":10,"s":"pt","v":3.41},{"n":10,"s":"od","v":0.64},
{"n":11,"s":"bc","v":0.64},{"n":11,"s":"ms","v":0.53},
{"n":12,"s":"bs","v":16.17},{"n":12,"s":"pt","v":15.55},{"n":12,"s":"gd","v":12.67},{"n":12,"s":"pc","v":11.89},{"n":12,"s":"gt","v":10.98},{"n":12,"s":"bt","v":10.98},{"n":12,"s":"ms","v":7.8},{"n":12,"s":"od","v":4.5},{"n":12,"s":"bc","v":0.39},
{"n":13,"s":"pt","v":8.92},{"n":13,"s":"gd","v":8.24},{"n":13,"s":"tt","v":7.52},{"n":13,"s":"pc","v":5.84},{"n":13,"s":"gt","v":5.84},{"n":13,"s":"bt","v":5.84},{"n":13,"s":"bc","v":4.77},
{"n":14,"s":"pt","v":9.52},{"n":14,"s":"pc","v":8.92},{"n":14,"s":"tt","v":8.22},{"n":14,"s":"bc","v":7.52},{"n":14,"s":"gt","v":7.52},{"n":14,"s":"bt","v":7.52},{"n":14,"s":"gd","v":7.52},{"n":14,"s":"bs","v":6.75},
{"n":15,"s":"pc","v":0.89},{"n":15,"s":"od","v":0.89},{"n":15,"s":"bc","v":0.39},
{"n":16,"s":"bs","v":0.82},{"n":16,"s":"ms","v":0.8},{"n":16,"s":"bc","v":0.25},
{"n":17,"s":"pt","v":0.64},{"n":17,"s":"gt","v":0.46},{"n":17,"s":"bt","v":0.46},
{"n":18,"s":"od","v":0.39},
{"n":19,"s":"ms","v":0.39},
{"n":20,"s":"pt","v":18.95},{"n":20,"s":"tt","v":18.0},{"n":20,"s":"pc","v":15.85},{"n":20,"s":"gd","v":15.85},{"n":20,"s":"ms","v":8.46},{"n":20,"s":"gt","v":6.02},{"n":20,"s":"bt","v":6.02},{"n":20,"s":"bs","v":6.02},
{"n":21,"s":"pt","v":14.68},{"n":21,"s":"bc","v":0.82},{"n":21,"s":"ms","v":0.1},
{"n":22,"s":"ms","v":0.46},{"n":22,"s":"bs","v":0.5},
{"n":23,"s":"od","v":1.18},{"n":23,"s":"bs","v":0.96},{"n":23,"s":"gt","v":0.32},
{"n":24,"s":"ms","v":0.96},{"n":24,"s":"gt","v":0.32},
{"n":25,"s":"gt","v":4.5},{"n":25,"s":"bt","v":4.5},{"n":25,"s":"ms","v":0.64},
{"n":1,"s":"k","v":1.08},{"n":2,"s":"k","v":3.34},{"n":3,"s":"k","v":0.14},{"n":4,"s":"k","v":0.1},{"n":5,"s":"k","v":0.14},{"n":6,"s":"k","v":0.68},{"n":7,"s":"k","v":3.34},{"n":8,"s":"k","v":3.34},{"n":9,"s":"k","v":0.25},{"n":10,"s":"k","v":0.25},{"n":11,"s":"k","v":0.14},{"n":12,"s":"k","v":0.1},{"n":13,"s":"k","v":3.34},{"n":14,"s":"k","v":5.8},{"n":15,"s":"k","v":0.46},{"n":16,"s":"k","v":0.53},{"n":17,"s":"k","v":0.1},{"n":18,"s":"k","v":0.03},{"n":19,"s":"k","v":0.07},{"n":20,"s":"k","v":0.46},{"n":21,"s":"k","v":0.32},{"n":22,"s":"k","v":0.1},{"n":23,"s":"k","v":0.64},{"n":24,"s":"k","v":0.53},{"n":25,"s":"k","v":0.14}],
"e3":[{"n":1,"s":"ms","v":10.51},{"n":1,"s":"gt","v":6.7},{"n":1,"s":"bc","v":5.8},{"n":1,"s":"pc","v":4.68},{"n":1,"s":"od","v":4.68},{"n":1,"s":"gd","v":0.85},
{"n":2,"s":"ms","v":8.12},{"n":2,"s":"bc","v":6.64},{"n":2,"s":"pc","v":5.74},{"n":2,"s":"od","v":3.32},{"n":2,"s":"gd","v":0.68},
{"n":3,"s":"bs","v":9.15},{"n":3,"s":"od","v":7.49},{"n":3,"s":"ms","v":6.47},{"n":3,"s":"gt","v":6.47},{"n":3,"s":"bt","v":6.47},{"n":3,"s":"bc","v":0.68},
{"n":4,"s":"bc","v":0.45},
{"n":5,"s":"pt","v":0.94},{"n":5,"s":"bc","v":0.94},
{"n":6,"s":"ms","v":22.26},{"n":6,"s":"gd","v":20.49},{"n":6,"s":"pc","v":19.64},{"n":6,"s":"bs","v":19.2},{"n":6,"s":"bt","v":18.82},{"n":6,"s":"tt","v":18.22},{"n":6,"s":"gt","v":17.2},{"n":6,"s":"pt","v":16.74},{"n":6,"s":"od","v":16.74},
{"n":7,"s":"tt","v":10.51},{"n":7,"s":"pt","v":10.51},{"n":7,"s":"gd","v":9.96},{"n":7,"s":"bs","v":8.12},{"n":7,"s":"bt","v":8.12},{"n":7,"s":"gt","v":7.4},{"n":7,"s":"od","v":5.74},{"n":7,"s":"ms","v":3.32},{"n":7,"s":"bc","v":0.6},
{"n":8,"s":"tt","v":10.51},{"n":8,"s":"pt","v":10.51},{"n":8,"s":"bt","v":9.96},{"n":8,"s":"od","v":9.96},{"n":8,"s":"gt","v":8.12},{"n":8,"s":"bs","v":7.41},{"n":8,"s":"ms","v":4.68},
{"n":9,"s":"bt","v":11.8},{"n":9,"s":"od","v":11.16},{"n":9,"s":"gd","v":10.68},{"n":9,"s":"ms","v":9.86},{"n":9,"s":"bs","v":7.49},{"n":9,"s":"pt","v":7.49},{"n":9,"s":"bc","v":6.47},{"n":9,"s":"gt","v":6.47},
{"n":10,"s":"bt","v":3.35},{"n":10,"s":"pt","v":0.6},
{"n":11,"s":"od","v":1.0},{"n":11,"s":"bc","v":0.85},{"n":11,"s":"gt","v":0.6},
{"n":12,"s":"tt","v":20.76},{"n":12,"s":"bt","v":19.81},{"n":12,"s":"bs","v":19.3},{"n":12,"s":"pc","v":18.82},{"n":12,"s":"ms","v":17.71},{"n":12,"s":"gd","v":17.71},{"n":12,"s":"pt","v":17.15},{"n":12,"s":"gt","v":16.57},{"n":12,"s":"od","v":15.34},{"n":12,"s":"bc","v":14.83},
{"n":13,"s":"bs","v":9.4},{"n":13,"s":"gt","v":7.4},{"n":13,"s":"pt","v":6.64},{"n":13,"s":"tt","v":4.65},{"n":13,"s":"bt","v":4.65},{"n":13,"s":"bc","v":0.85},
{"n":14,"s":"bs","v":9.96},{"n":14,"s":"gt","v":8.09},{"n":14,"s":"bt","v":8.09},{"n":14,"s":"ms","v":7.41},{"n":14,"s":"od","v":5.74},{"n":14,"s":"bc","v":4.68},
{"n":15,"s":"bt","v":18.82},{"n":15,"s":"bc","v":11.5},{"n":15,"s":"bs","v":9.42},{"n":15,"s":"ms","v":6.64},{"n":15,"s":"gd","v":6.64},{"n":15,"s":"pt","v":0.7},
{"n":16,"s":"pc","v":9.66},{"n":16,"s":"bc","v":0.77},{"n":16,"s":"od","v":0.51},{"n":16,"s":"ms","v":0.26},{"n":16,"s":"gt","v":0.1},
{"n":17,"s":"gd","v":0.6},
{"n":18,"s":"bc","v":0.77},
{"n":19,"s":"ms","v":0.51},
{"n":20,"s":"od","v":18.72},{"n":20,"s":"bc","v":18.72},{"n":20,"s":"ms","v":17.76},{"n":20,"s":"bt","v":14.56},{"n":20,"s":"bs","v":10.34},{"n":20,"s":"pt","v":10.34},{"n":20,"s":"gd","v":8.53},{"n":20,"s":"gt","v":2.5},{"n":20,"s":"tt","v":1.5},{"n":20,"s":"pc","v":0.94},
{"n":21,"s":"bc","v":10.34},{"n":21,"s":"od","v":0.6},
{"n":22,"s":"bt","v":9.69},{"n":22,"s":"gt","v":0.85},{"n":22,"s":"bc","v":0.68},
{"n":23,"s":"pt","v":0.51},
{"n":24,"s":"bc","v":0.68},{"n":24,"s":"od","v":0.55},
{"n":25,"s":"gt","v":17.15},{"n":25,"s":"bs","v":15.97},{"n":25,"s":"bt","v":15.97},{"n":25,"s":"tt","v":13.98},{"n":25,"s":"ms","v":12.5},{"n":25,"s":"pc","v":11.75},{"n":25,"s":"pt","v":8.85},{"n":25,"s":"bc","v":0.45},
{"n":1,"s":"k","v":0.23},{"n":2,"s":"k","v":0.17},{"n":3,"s":"k","v":0.26},{"n":4,"s":"k","v":0.05},{"n":5,"s":"k","v":0.26},{"n":6,"s":"k","v":14.49},{"n":7,"s":"k","v":0.09},{"n":8,"s":"k","v":0.09},{"n":9,"s":"k","v":3.83},{"n":10,"s":"k","v":0.09},{"n":11,"s":"k","v":0.51},{"n":12,"s":"k","v":14.49},{"n":13,"s":"k","v":0.05},{"n":14,"s":"k","v":0.09},{"n":15,"s":"k","v":0.43},{"n":16,"s":"k","v":1.28},{"n":17,"s":"k","v":0.09},{"n":18,"s":"k","v":0.17},{"n":19,"s":"k","v":0.17},{"n":20,"s":"k","v":1.82},{"n":21,"s":"k","v":0.17},{"n":22,"s":"k","v":0.23},{"n":23,"s":"k","v":0.09},{"n":24,"s":"k","v":0.09},{"n":25,"s":"k","v":0.26}]
},
"spacing":40,
"vconcat":[
{"bounds":"flush","spacing":186,"hconcat":[
 {"width":1040,"height":643,"title":{"text":"EG Sample"},
  "encoding":{"x":{"field":"t","type":"quantitative","scale":{"domain":[-0.33,15.82],"nice":false,"zero":false},"axis":{"values":[0,1,2,3,4,5,6,7,8,9,10,11,12,13,14,15],"labelExpr":"datum.value % 5 === 0 ? '' + datum.value : ''","title":null,"labelOverlap":false,"labelFlush":false,"tickSize":-8,"labelPadding":12}},
     "y":{"field":"f","type":"quantitative","scale":{"domain":[98.6,280],"nice":false,"zero":false},"axis":{"orient":"right","values":[100,110,120,130,140,150,160,170,180,190,200,210,220,230,240,250,260,270,280],"labelExpr":"datum.value % 50 === 0 ? '' + datum.value : ''","title":null,"labelOverlap":false,"tickSize":-8,"labelPadding":6}}},
  "layer":[
   {"data":{"name":"s1"},"mark":{"type":"circle","size":30,"color":"#3c3c9a","opacity":1}},
   {"data":{"name":"notes"},"mark":{"type":"rule","color":"#ff0000","strokeWidth":7},"encoding":{"x2":{"field":"t1"}}}
  ]},
 {"width":1040,"height":643,"title":{"text":"EG Average"},
  "encoding":{"x":{"field":"t","type":"quantitative","scale":{"domain":[-0.33,15.82],"nice":false,"zero":false},"axis":{"values":[0,1,2,3,4,5,6,7,8,9,10,11,12,13,14,15],"labelExpr":"datum.value % 5 === 0 ? '' + datum.value : ''","title":"Time (s)","titlePadding":2,"labelOverlap":false,"labelFlush":false,"tickSize":-8,"labelPadding":12}},
     "y":{"field":"f","type":"quantitative","scale":{"domain":[98.6,280],"nice":false,"zero":false},"axis":{"orient":"right","values":[100,110,120,130,140,150,160,170,180,190,200,210,220,230,240,250,260,270,280],"labelExpr":"datum.value % 50 === 0 ? '' + datum.value : ''","title":null,"labelOverlap":false,"tickSize":-8,"labelPadding":6}}},
  "layer":[
   {"data":{"name":"s2"},"mark":{"type":"circle","size":30,"color":"#3c3c9a","opacity":1}},
   {"data":{"name":"notes"},"mark":{"type":"rule","color":"#ff0000","strokeWidth":7},"encoding":{"x2":{"field":"t1"}}}
  ]},
 {"width":1040,"height":643,"title":{"text":"Overall Average"},
  "encoding":{"x":{"field":"t","type":"quantitative","scale":{"domain":[-0.33,15.82],"nice":false,"zero":false},"axis":{"values":[0,1,2,3,4,5,6,7,8,9,10,11,12,13,14,15],"labelExpr":"datum.value % 5 === 0 ? '' + datum.value : ''","title":null,"labelOverlap":false,"labelFlush":false,"tickSize":-8,"labelPadding":12}},
     "y":{"field":"f","type":"quantitative","scale":{"domain":[98.6,280],"nice":false,"zero":false},"axis":{"orient":"right","values":[100,110,120,130,140,150,160,170,180,190,200,210,220,230,240,250,260,270,280],"labelExpr":"datum.value % 50 === 0 ? '' + datum.value : ''","title":"Frequency (Hz)","titleAngle":270,"titleBaseline":"top","titlePadding":18,"titleFontSize":44,"titleColor":"#777","labelOverlap":false,"tickSize":-8,"labelPadding":6}}},
  "layer":[
   {"data":{"name":"s3"},"mark":{"type":"circle","size":30,"color":"#3c3c9a","opacity":1}},
   {"data":{"name":"notes"},"mark":{"type":"rule","color":"#ff0000","strokeWidth":7},"encoding":{"x2":{"field":"t1"}}}
  ]}
]},
{"bounds":"flush","spacing":170,"hconcat":[
 {"width":1056,"height":653,"title":{"text":"YG Note Errors","offset":-11},
  "data":{"name":"e1"},"mark":{"type":"point","strokeWidth":1.4,"opacity":1},
  "encoding":{
   "x":{"field":"n","type":"quantitative","scale":{"domain":[0.5,25.42],"nice":false,"zero":false},"axis":{"ticks":false,"labels":false,"title":null}},
   "y":{"field":"v","type":"quantitative","scale":{"domain":[-0.35,18.49],"nice":false,"zero":false},"axis":{"orient":"right","values":[0,1,2,3,4,5,6,7,8,9,10,11,12,13,14,15,16,17,18],"labelExpr":"datum.value % 5 === 0 ? '' + datum.value : ''","title":null,"labelOverlap":false,"tickSize":-8,"labelPadding":6}},
   "shape":{"field":"s","type":"nominal","scale":{"domain":["k","bc","ms","od","gd","pt","bt","gt","tt","bs","pc"],"range":["circle","circle","square","diamond","diamond","triangle-down","triangle-down","triangle-up","triangle-up","square","circle"]},"legend":null},
   "fill":{"field":"s","type":"nominal","scale":{"domain":["k","bc","ms","od","gd","pt","bt","gt","tt","bs","pc"],"range":["#000000","#3c3c9e","#9c3b6e","#9b8a3d","transparent","transparent","#3b5ea6","#2f9a5a","transparent","transparent","transparent"]},"legend":null},
   "stroke":{"field":"s","type":"nominal","scale":{"domain":["k","bc","ms","od","gd","pt","bt","gt","tt","bs","pc"],"range":["#000000","#3c3c9e","#9c3b6e","#9b8a3d","#4aa94a","#a05cc0","#3b5ea6","#2f9a5a","#3a82b0","#b47a48","#b55fb5"]},"legend":null},
   "size":{"field":"s","type":"ordinal","scale":{"domain":["k","bc","ms","od","gd","pt","bt","gt","tt","bs","pc"],"range":[440,230,155,210,150,210,210,210,210,155,230]},"legend":null}
  }},
 {"width":1056,"height":653,"title":{"text":"EV Note Errors","offset":-11},
  "data":{"name":"e2"},"mark":{"type":"point","strokeWidth":1.4,"opacity":1},
  "encoding":{
   "x":{"field":"n","type":"quantitative","scale":{"domain":[0.5,25.42],"nice":false,"zero":false},"axis":{"ticks":false,"labels":false,"title":"Notes","titlePadding":8}},
   "y":{"field":"v","type":"quantitative","scale":{"domain":[-0.36,19.23],"nice":false,"zero":false},"axis":{"orient":"right","values":[0,1,2,3,4,5,6,7,8,9,10,11,12,13,14,15,16,17,18,19],"labelExpr":"datum.value % 5 === 0 ? '' + datum.value : ''","title":null,"labelOverlap":false,"tickSize":-8,"labelPadding":6}},
   "shape":{"field":"s","type":"nominal","scale":{"domain":["k","bc","ms","od","gd","pt","bt","gt","tt","bs","pc"],"range":["circle","circle","square","diamond","diamond","triangle-down","triangle-down","triangle-up","triangle-up","square","circle"]},"legend":null},
   "fill":{"field":"s","type":"nominal","scale":{"domain":["k","bc","ms","od","gd","pt","bt","gt","tt","bs","pc"],"range":["#000000","#3c3c9e","#9c3b6e","#9b8a3d","transparent","transparent","#3b5ea6","#2f9a5a","transparent","transparent","transparent"]},"legend":null},
   "stroke":{"field":"s","type":"nominal","scale":{"domain":["k","bc","ms","od","gd","pt","bt","gt","tt","bs","pc"],"range":["#000000","#3c3c9e","#9c3b6e","#9b8a3d","#4aa94a","#a05cc0","#3b5ea6","#2f9a5a","#3a82b0","#b47a48","#b55fb5"]},"legend":null},
   "size":{"field":"s","type":"ordinal","scale":{"domain":["k","bc","ms","od","gd","pt","bt","gt","tt","bs","pc"],"range":[440,230,155,210,150,210,210,210,210,155,230]},"legend":null}
  }},
 {"width":1056,"height":653,"title":{"text":"EG Note Errors","offset":-11},
  "data":{"name":"e3"},"mark":{"type":"point","strokeWidth":1.4,"opacity":1},
  "encoding":{
   "x":{"field":"n","type":"quantitative","scale":{"domain":[0.5,25.42],"nice":false,"zero":false},"axis":{"ticks":false,"labels":false,"title":null}},
   "y":{"field":"v","type":"quantitative","scale":{"domain":[-0.46,22.7],"nice":false,"zero":false},"axis":{"orient":"right","values":[0,1,2,3,4,5,6,7,8,9,10,11,12,13,14,15,16,17,18,19,20,21,22],"labelExpr":"datum.value % 5 === 0 ? '' + datum.value : ''","title":"RMS Error (Hz)","titleAngle":270,"titleBaseline":"top","titlePadding":18,"titleFontSize":44,"titleColor":"#777","labelOverlap":false,"tickSize":-8,"labelPadding":6}},
   "shape":{"field":"s","type":"nominal","scale":{"domain":["k","bc","ms","od","gd","pt","bt","gt","tt","bs","pc"],"range":["circle","circle","square","diamond","diamond","triangle-down","triangle-down","triangle-up","triangle-up","square","circle"]},"legend":null},
   "fill":{"field":"s","type":"nominal","scale":{"domain":["k","bc","ms","od","gd","pt","bt","gt","tt","bs","pc"],"range":["#000000","#3c3c9e","#9c3b6e","#9b8a3d","transparent","transparent","#3b5ea6","#2f9a5a","transparent","transparent","transparent"]},"legend":null},
   "stroke":{"field":"s","type":"nominal","scale":{"domain":["k","bc","ms","od","gd","pt","bt","gt","tt","bs","pc"],"range":["#000000","#3c3c9e","#9c3b6e","#9b8a3d","#4aa94a","#a05cc0","#3b5ea6","#2f9a5a","#3a82b0","#b47a48","#b55fb5"]},"legend":null},
   "size":{"field":"s","type":"ordinal","scale":{"domain":["k","bc","ms","od","gd","pt","bt","gt","tt","bs","pc"],"range":[440,230,155,210,150,210,210,210,210,155,230]},"legend":null}
  }}
]}
]
}
